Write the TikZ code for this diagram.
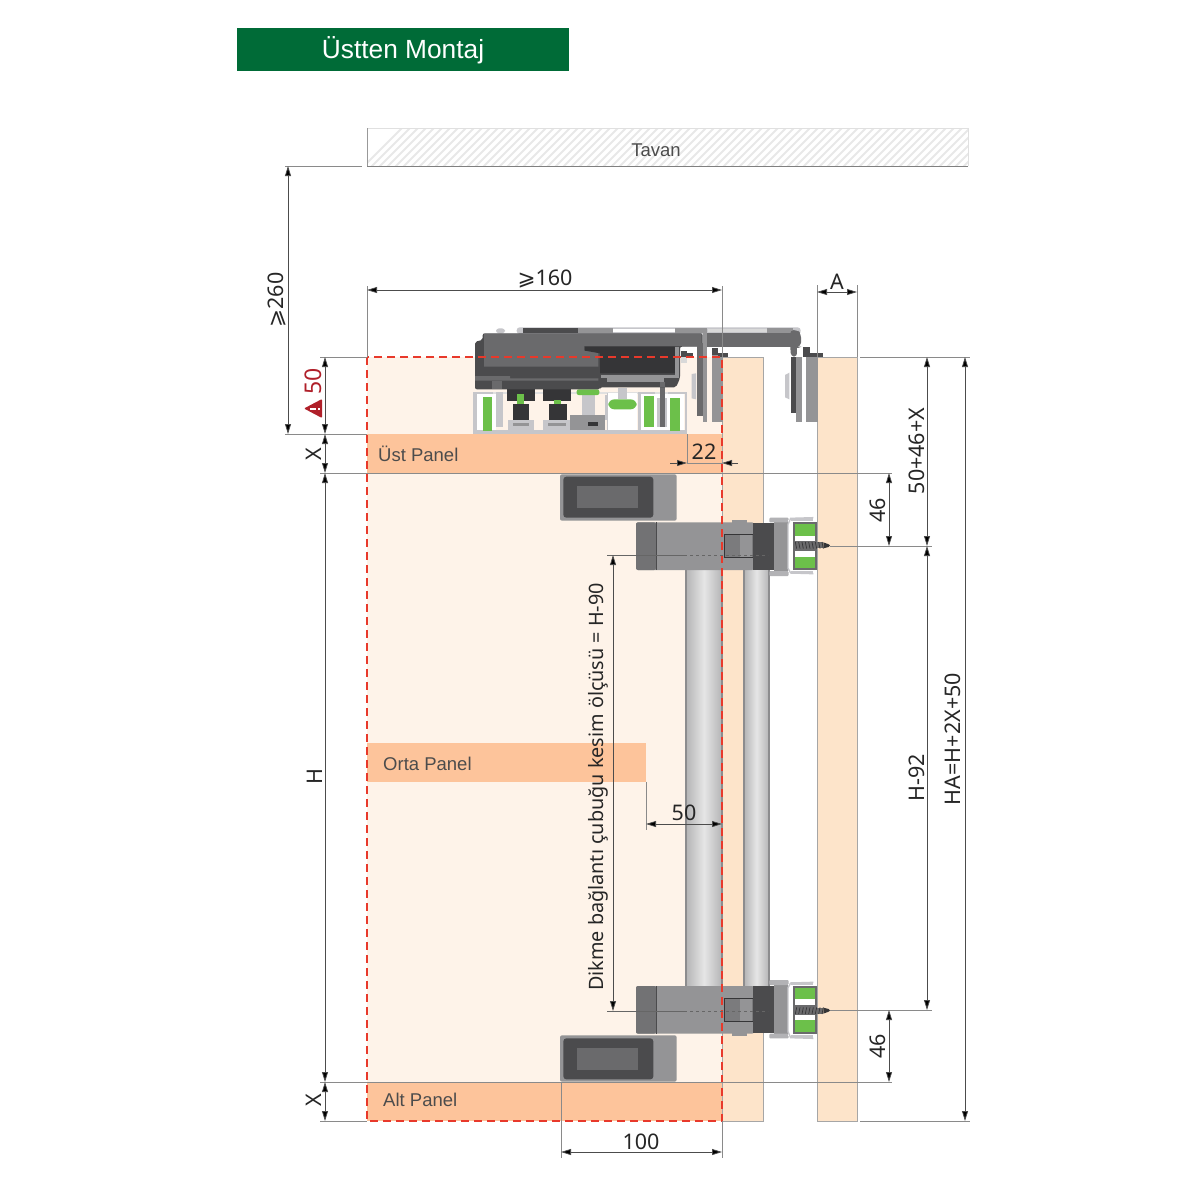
\documentclass[tikz,border=0pt]{standalone}
\usepackage{fontspec}
\setmainfont{Noto Sans}
\newfontfamily\lblfont{Liberation Sans}
\newfontfamily\symfont{DejaVu Sans}
\usetikzlibrary{arrows.meta}
\definecolor{hdr}{HTML}{006B37}
\definecolor{paneL}{HTML}{FEF3E9}
\definecolor{paneM}{HTML}{FDC49B}
\definecolor{doorC}{HTML}{FDE4CA}
\definecolor{redD}{HTML}{E8392B}
\definecolor{redT}{HTML}{B0202A}
\definecolor{grn}{HTML}{6CC04A}
\definecolor{dk}{HTML}{4B4B4D}
\definecolor{vdk}{HTML}{353537}
\definecolor{md}{HTML}{6A6A6C}
\definecolor{gy}{HTML}{949496}
\definecolor{lg}{HTML}{C6C6CA}
\definecolor{extl}{HTML}{8A8A8A}
\definecolor{tubeE}{HTML}{8C8C8E}
\tikzset{
  ext/.style={draw=extl,line width=0.9pt},
  dimline/.style={draw=black!70,line width=0.8pt,{Triangle[length=10pt,width=6pt,fill=black]}-{Triangle[length=10pt,width=6pt,fill=black]}},
  tipin/.style={draw=black!70,line width=0.8pt,-{Triangle[length=10pt,width=6pt,fill=black]}},
  dimtxt/.style={font=\fontsize{21.5}{24}\selectfont,text=black!85,inner sep=0pt},
  pantxt/.style={font=\lblfont\fontsize{18.5}{22}\selectfont,text=black!70,inner sep=0pt,anchor=west},
  panelbar/.style={fill=paneM},
  doorbar/.style={fill=doorC,draw=black!35,line width=0.6pt},
}
\newcommand{\tubepart}[2]{%
  \shade[left color=gy!70,right color=gy!70,middle color=white!90!black,shading=axis] (#1,560) rectangle (#2,995);
  \draw[tubeE,line width=1.2pt] (#1,560) -- (#1,995) (#2,560) -- (#2,995);
}
\newcommand{\hingepart}{%
  % coordinates: zoom of (550,465), scale 3
  \begin{scope}[shift={(550,465)},scale=1/3]
    \fill[gy,rounded corners=2pt] (30,28) rectangle (380,167);
    \fill[dk,rounded corners=3pt] (40,35) rectangle (310,158);
    \fill[md] (82,62) rectangle (265,130);
    \fill[gy] (545,166) rectangle (590,176);
    \fill[gy,rounded corners=2pt] (258,172) rectangle (612,315);
    \fill[md!80!gy,rounded corners=2pt] (258,172) rectangle (318,315);
    \draw[dk,line width=0.6pt] (318,172) -- (318,315);
    \fill[md!60!gy] (522,208) rectangle (610,277);
    \fill[gy] (570,210) rectangle (605,277);
    \draw[vdk,line width=0.8pt] (610,208) -- (522,208) -- (522,277) -- (610,277);
    \fill[dk] (610,175) rectangle (672,315);
    \fill[gy] (672,172) rectangle (715,318);
    \fill[lg!60!gy,rounded corners=1pt] (658,158) rectangle (716,172);
    \fill[lg!60!gy,rounded corners=1pt] (658,318) rectangle (716,333);
    % spring holder
    \fill[white] (715,165) rectangle (796,322);
    \draw[lg,line width=1.4pt] (790,158) -- (722,160) -- (714,178) -- (714,310) -- (722,324) -- (790,326);
    \fill[lg] (722,160) rectangle (790,168);
    \fill[lg] (722,318) rectangle (790,326);
    \fill[md] (730,172) rectangle (800,315);
    \fill[grn] (735,176) rectangle (795,212);
    \fill[grn] (735,276) rectangle (795,310);
    \fill[white] (735,212) rectangle (795,228);
    \fill[white] (735,258) rectangle (795,276);
    \fill[md] (732,232) rectangle (820,250);
    \fill[vdk] (820,232) -- (836,238) -- (840,241) -- (836,246) -- (820,250) -- cycle;
    \foreach \k in {736,746,...,816} \draw[vdk,line width=0.7pt] (\k,231) -- (\k+4,251);
  \end{scope}
}
\begin{document}
\begin{tikzpicture}[x=1pt,y=-1pt]
\useasboundingbox (0,0) rectangle (1200,1200);
\fill[white] (0,0) rectangle (1200,1200);

% header
\fill[hdr] (237,28) rectangle (569,71);
\node[font=\lblfont\fontsize{26.3}{28}\selectfont,text=white,inner sep=0pt] (title) at (403,50) {Üstten Montaj};

% ceiling
\begin{scope}
  \clip (367,128) rectangle (968,166);
  \foreach \k in {360,368,...,1020}
    \draw[black!9,line width=2pt] (\k,170) -- (\k+46,124);
\end{scope}
\draw[black!12,line width=0.6pt] (367,128) -- (968,128) -- (968,166);
\draw[black!40,line width=0.8pt] (367,128) -- (367,166);
\draw[black!50,line width=1pt] (367,166) -- (968,166);
\node[font=\lblfont\fontsize{18.5}{22}\selectfont,text=black!70,inner sep=0pt] (tavan) at (656,150) {Tavan};

% panels and doors
\fill[paneL] (367,357) rectangle (722,1121);
\draw[doorbar] (722,357) rectangle (763,1121);
\draw[doorbar] (817,357) rectangle (857,1121);
\fill[panelbar] (367,434) rectangle (722,473);
\fill[panelbar] (367,743) rectangle (646,782);
\fill[panelbar] (367,1082) rectangle (722,1121);

% tubes
\tubepart{686}{722}
\tubepart{744}{769}

% hinge sets
\hingepart
\begin{scope}[shift={(0,1556)},yscale=-1]
  \hingepart
\end{scope}

% top track
\begin{scope}[shift={(460,310)},scale=1/3]
  % aluminium track
  \fill[white!88!black] (40,245) rectangle (682,372);
  \fill[paneL] (48,252) rectangle (674,362);
  \fill[lg] (40,360) rectangle (682,372);
  \fill[lg] (40,245) rectangle (50,372);
  \fill[lg] (40,245) rectangle (100,253);
  \fill[lg] (674,245) rectangle (682,372);
  \fill[lg] (535,245) rectangle (542,372);
  \fill[lg] (535,245) rectangle (585,253);
  \fill[lg] (625,245) rectangle (682,253);
  \fill[white] (50,253) rectangle (108,360);
  \fill[white] (542,253) rectangle (672,360);
  \fill[grn] (68,262) rectangle (95,362);
  \fill[lg] (108,245) rectangle (128,350);
  % trolleys
  \fill[vdk] (140,235) rectangle (225,272);
  \fill[grn] (172,252) rectangle (192,282);
  \fill[vdk] (158,282) rectangle (208,330);
  \fill[lg] (145,330) rectangle (222,362);
  \fill[gy] (160,340) rectangle (208,348);
  \fill[vdk] (248,235) rectangle (333,272);
  \fill[grn] (282,270) rectangle (302,282);
  \fill[vdk] (268,282) rectangle (320,330);
  \fill[lg] (250,330) rectangle (330,362);
  \fill[gy] (265,340) rectangle (318,348);
  % middle
  \fill[lg] (365,255) rectangle (405,315);
  \fill[grn,rounded corners=2pt] (350,238) rectangle (418,255);
  \fill[gy] (330,315) rectangle (435,360);
  \fill[vdk] (385,335) rectangle (415,347);
  \fill[white] (445,250) rectangle (530,360);
  \draw[lg,line width=1pt] (442,250) -- (442,360) -- (530,360);
  \fill[lg] (475,235) rectangle (500,268);
  \fill[lg] (435,255) rectangle (443,330);
  \fill[grn,rounded corners=6pt] (445,268) rectangle (530,298);
  % right roller
  \fill[grn] (553,258) rectangle (582,352);
  \fill[lg] (590,265) rectangle (622,350);
  \fill[md] (600,205) rectangle (615,350);
  \fill[grn] (630,265) rectangle (660,362);
  % cover and body
  \fill[lg,rounded corners=3pt] (170,52) rectangle (1022,72);
  \fill[lg,rounded corners=3pt] (108,55) rectangle (135,70);
  \fill[dk] (190,55) rectangle (355,68);
  \fill[gy] (355,55) rectangle (460,68);
  \fill[white] (460,57) rectangle (645,66);
  \fill[gy] (645,55) rectangle (735,68);
  \fill[white!85!black] (745,57) rectangle (920,66);
  \fill[gy] (920,55) rectangle (1000,68);
  \fill[dk,rounded corners=2pt] (68,70) -- (728,70) -- (728,110) -- (660,110) -- (660,205) -- (648,232) -- (420,232) -- (420,238) -- (45,238) -- (45,95) -- (68,90) -- cycle;
  \fill[md] (72,72) -- (725,72) -- (725,108) -- (372,108) -- (372,122) -- (415,125) -- (415,170) -- (72,170) -- cycle;
  \fill[vdk] (375,110) -- (645,110) -- (645,190) -- (420,190) -- (420,130) -- (375,122) -- cycle;
  \fill[gy] (645,110) rectangle (658,195);
  \fill[gy] (422,195) -- (658,195) -- (658,205) -- (422,205) -- cycle;
  \fill[md] (45,198) -- (150,198) -- (150,205) -- (415,205) -- (415,212) -- (45,212) -- cycle;
  \fill[md] (95,212) rectangle (125,238);
  \fill[gy] (440,205) rectangle (612,215);
  \fill[md] (600,215) rectangle (615,232);
  % arm to the right
  \fill[md] (738,70) rectangle (1000,110);
  \fill[gy] (728,55) rectangle (742,110);
  \fill[md,rounded corners=4pt] (990,60) -- (1012,60) -- (1023,70) -- (1023,110) -- (1012,110) -- (1012,140) -- (992,140) -- cycle;
  % small parts under plate
  \fill[dk] (662,122) rectangle (680,140);
  \fill[dk] (680,128) rectangle (698,140);
  \fill[white!85!black] (662,140) rectangle (680,160);
  % left carrier
  \fill[lg] (695,192) -- (708,190) -- (708,268) -- (695,265) -- cycle;
  \fill[md] (712,100) rectangle (728,318);
  \fill[gy] (728,100) rectangle (742,335);
  \fill[white] (742,112) rectangle (755,140);
  \fill[gy] (755,132) rectangle (790,335);
  \fill[dk] (755,115) rectangle (775,135);
  \fill[dk] (775,128) rectangle (805,140);
  % right carrier
  \fill[lg] (975,195) -- (988,188) -- (988,268) -- (975,262) -- cycle;
  \fill[dk] (992,140) rectangle (1010,310);
  \fill[gy] (1008,140) rectangle (1025,335);
  \fill[gy] (1038,140) rectangle (1075,335);
  \fill[white] (1012,115) rectangle (1030,140);
  \fill[dk] (1030,112) rectangle (1050,140);
  \fill[dk] (1050,128) rectangle (1088,140);
\end{scope}

% red dashed outline
\draw[redD,line width=1.4pt,dash pattern=on 8pt off 5pt] (367,357) rectangle (722,1121);

% extension lines
\draw[ext] (285,166) -- (362,166);
\draw[ext] (285,434) -- (367,434);
\draw[ext] (320,357) -- (367,357);
\draw[ext] (320,473) -- (892,473);
\draw[ext] (320,1082) -- (892,1082);
\draw[ext] (320,1121) -- (367,1121);
\draw[ext] (367,286) -- (367,357);
\draw[ext] (722,286) -- (722,357);
\draw[ext] (817,285) -- (817,357);
\draw[ext] (857,285) -- (857,357);
\draw[ext] (860,357) -- (970,357);
\draw[ext] (860,1121) -- (970,1121);
\draw[ext] (830,546) -- (932,546);
\draw[ext] (830,1010) -- (932,1010);
\draw[ext] (561,1082) -- (561,1158);
\draw[ext] (722,1121) -- (722,1158);
\draw[ext] (646,782) -- (646,830);
\draw[ext] (687,434) -- (687,463);
\draw[black!60,line width=0.7pt] (607,555) -- (684,555);
\draw[black!60,line width=0.6pt,dashed] (684,555) -- (768,555);
\draw[black!60,line width=0.7pt] (607,1011) -- (684,1011);
\draw[black!60,line width=0.6pt,dashed] (684,1011) -- (768,1011);

% dimensions
\coordinate (c260a) at (288,166); \coordinate (c260b) at (288,434);
\draw[dimline] (c260a) -- (c260b);
\draw[dimline] (367,290) -- (722,290);
\draw[dimline] (325,357) -- (325,434);
\draw[dimline] (325,434) -- (325,473);
\draw[dimline] (325,473) -- (325,1082);
\draw[dimline] (325,1082) -- (325,1121);
\draw[dimline] (817,292) -- (857,292);
\draw[tipin] (670,463) -- (687,463);
\draw[tipin] (738,463) -- (722,463);
\draw[ext] (687,463) -- (722,463);
\draw[dimline] (646,824) -- (722,824);
\draw[dimline] (561,1152) -- (722,1152);
\draw[dimline] (613,555) -- (613,1011);
\draw[dimline] (889,473) -- (889,546);
\draw[dimline] (889,1010) -- (889,1082);
\draw[dimline] (927,357) -- (927,546);
\draw[dimline] (927,546) -- (927,1010);
\draw[dimline] (965,357) -- (965,1121);

% labels
\node[dimtxt,rotate=90] (d260) at (277,300) {{\symfont ⩾}260};
\node[dimtxt] (d160) at (545,279) {{\symfont ⩾}160};
\node[dimtxt] (dA) at (837,282) {A};
\node[dimtxt] (d22) at (704,452) {22};
\node[dimtxt] (d50) at (684,813) {50};
\node[dimtxt] (d100) at (641,1142) {100};
\node[dimtxt,rotate=90] (dX1) at (314,454) {X};
\node[dimtxt,rotate=90] (dX2) at (314,1100) {X};
\node[dimtxt,rotate=90] (dH) at (315,777) {H};
\node[dimtxt,rotate=90] (d5046) at (917,451) {50+46+X};
\node[dimtxt,rotate=90] (d46a) at (878,510) {46};
\node[dimtxt,rotate=90] (d46b) at (878,1046) {46};
\node[dimtxt,rotate=90] (dH92) at (917,778) {H-92};
\node[dimtxt,rotate=90] (dHA) at (953,739) {HA=H+2X+50};
\node[dimtxt,rotate=90,font=\fontsize{19.8}{22}\selectfont] (dcut) at (598,787) {Dikme bağlantı çubuğu kesim ölçüsü = H-90};
\node[dimtxt,rotate=90,text=redT,font=\fontsize{23}{24}\selectfont\bfseries] (d50r) at (313,381) {50};
\fill[redT,rounded corners=1pt] (322,399) -- (322,418) -- (304,408.5) -- cycle;
\fill[white] (310,407.5) rectangle (316,409.5);
\fill[white] (318,407.5) rectangle (320,409.5);
\node[pantxt] (ust) at (378,454) {Üst Panel};
\node[pantxt] (orta) at (383,764) {Orta Panel};
\node[pantxt] (alt) at (383,1100) {Alt Panel};
\end{tikzpicture}
\end{document}
